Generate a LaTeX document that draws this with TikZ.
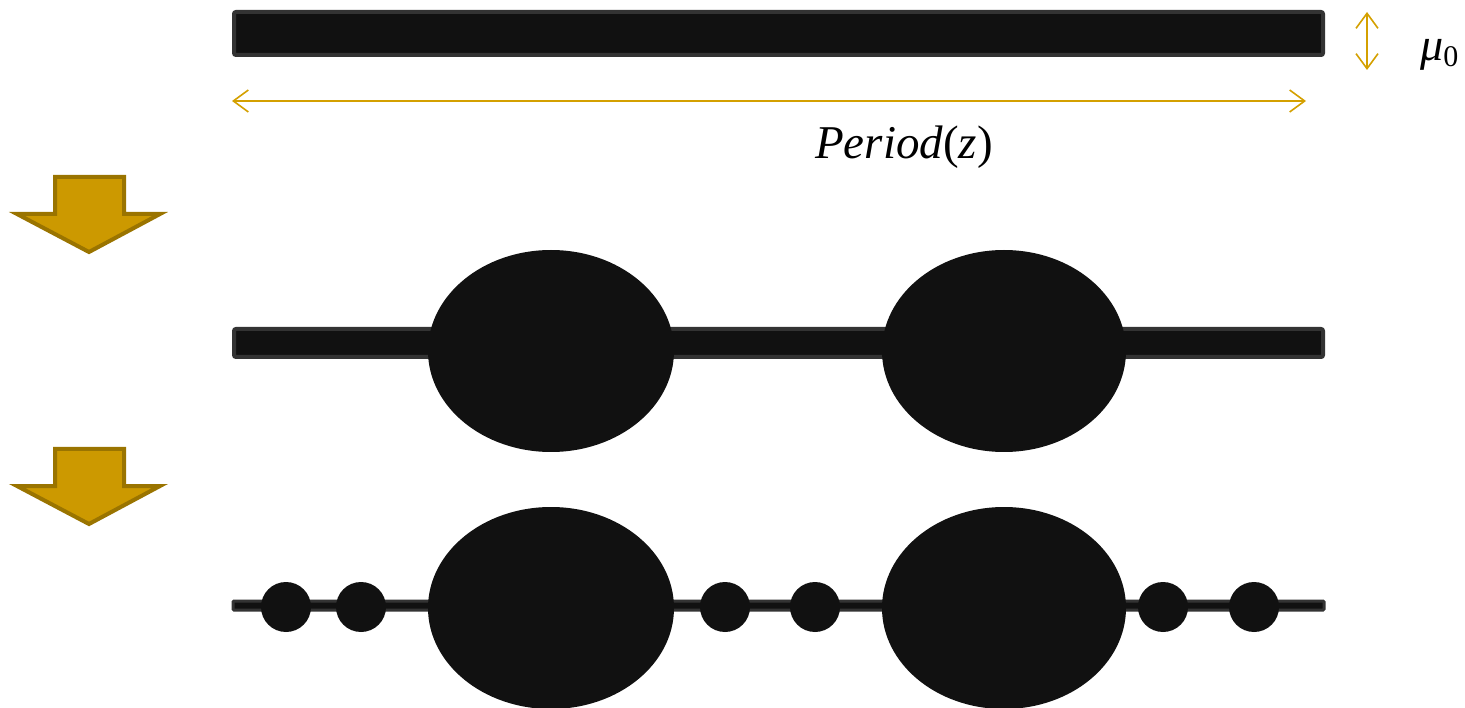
\documentclass[tikz,border=0pt]{standalone}
\usepackage{fontspec}
\setmainfont{Liberation Serif}
\usetikzlibrary{arrows.meta}
\definecolor{gold}{HTML}{D4A000}
\definecolor{arrfill}{HTML}{CC9900}
\definecolor{arrdraw}{HTML}{9A7400}
\definecolor{blob}{HTML}{111111}
\definecolor{rim}{HTML}{333333}
\tikzset{
  bar/.style={fill=blob, draw=rim, line width=4pt, rounded corners=2pt},
  blobby/.style={fill=blob, draw=none},
  dim/.style={draw=gold, line width=1.6pt, {Straight Barb[length=15pt,width=22pt]}-{Straight Barb[length=15pt,width=22pt]}},
  downarrow/.style={fill=arrfill, draw=arrdraw, line width=4pt, line join=miter},
  lbl/.style={inner sep=0pt, font=\fontsize{47}{52}\selectfont}
}
\begin{document}
\begin{tikzpicture}[x=1pt,y=-1pt]
\useasboundingbox (0,0) rectangle (1465,708);
% top bar
\draw[bar] (234,12) rectangle (1323,55);
\coordinate (hl) at (232,101);
\coordinate (hr) at (1306,101);
\draw[dim] (hl) -- (hr);
\coordinate (vt) at (1367,12);
\coordinate (vb) at (1367,70);
\draw[dim] (vt) -- (vb);
\node[lbl, anchor=base] (period) at (904,159) {\textit{Period}\raisebox{0.02ex}{(}\textit{z}\raisebox{0.02ex}{)}};
\node[lbl, anchor=base west] (mu) at (1420,61) {\fontsize{46}{50}\selectfont\textit{μ}\raisebox{-0.25ex}{\fontsize{30}{32}\selectfont 0}};
% down arrows
\draw[downarrow] (55,177) -- (124,177) -- (124,214) -- (160,214) -- (89,252) -- (17,214) -- (55,214) -- cycle;
\draw[downarrow] (55,449) -- (124,449) -- (124,486) -- (160,486) -- (89,524) -- (17,486) -- (55,486) -- cycle;
% second row
\draw[bar] (234,329) rectangle (1323,357);
\fill[blobby] (551,351) ellipse [x radius=123, y radius=101];
\fill[blobby] (1004,351) ellipse [x radius=122, y radius=101];
% third row
\draw[bar, line width=3pt, rounded corners=1pt] (233,601) rectangle (1324,610);
\fill[blobby] (551,608) ellipse [x radius=123, y radius=101];
\fill[blobby] (1004,608) ellipse [x radius=122, y radius=101];
\foreach \cx in {286,361,725,815,1163,1254}
  \fill[blobby] (\cx,607) circle [radius=25];
\end{tikzpicture}
\end{document}
